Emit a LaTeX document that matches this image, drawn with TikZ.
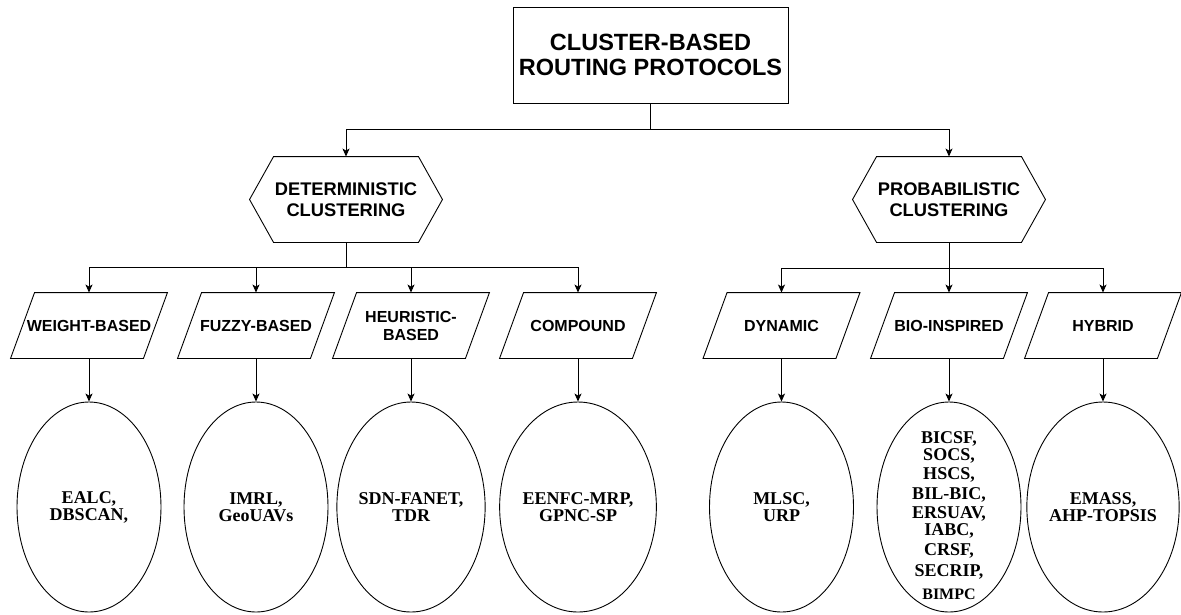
\documentclass[tikz,border=0pt]{standalone}
\usepackage{fontspec}
\setmainfont{Liberation Serif}
\newfontfamily\arialf{Liberation Sans}
\usetikzlibrary{shapes.geometric,arrows.meta}
\begin{document}
\begin{tikzpicture}[x=1pt,y=-1pt,
  line width=0.9pt,
  arr/.style={-{Stealth[length=8pt,width=7pt,inset=2pt]}},
  titlebox/.style={draw, minimum width=275pt, minimum height=96pt, inner sep=0pt, align=center, font=\arialf\bfseries\fontsize{23.5}{25}\selectfont},
  hexbox/.style={minimum width=192pt, minimum height=85pt, inner sep=0pt, align=center, font=\arialf\bfseries\fontsize{18.3}{21}\selectfont},
  parabox/.style={minimum width=132pt, minimum height=65pt, inner sep=0pt, align=center, font=\arialf\bfseries\fontsize{16}{18}\selectfont},
  ell/.style={draw, ellipse, minimum width=144pt, minimum height=210pt, inner sep=0pt, align=center, font=\bfseries\fontsize{18}{17}\selectfont},
  etext/.style={inner sep=0pt, align=center, font=\bfseries\fontsize{18}{17}\selectfont},
]
\useasboundingbox (0,0) rectangle (1181,614);

% title
\node[titlebox] (top) at (650.5,55) {CLUSTER-BASED\\ROUTING PROTOCOLS};

% hexagons
\node[hexbox] (det) at (346,199.5) {DETERMINISTIC\\CLUSTERING};
\node[hexbox] (prob) at (949,199.5) {PROBABILISTIC\\CLUSTERING};
\foreach \n in {det,prob}
  \draw (\n.west) -- ([xshift=24pt]\n.north west) -- ([xshift=-24pt]\n.north east)
        -- (\n.east) -- ([xshift=-24pt]\n.south east) -- ([xshift=24pt]\n.south west) -- cycle;

% parallelograms
\node[parabox] (w) at (89,325.5) {WEIGHT-BASED};
\node[parabox] (f) at (256,325.5) {FUZZY-BASED};
\node[parabox] (h) at (411,325.5) {HEURISTIC-\\BASED};
\node[parabox] (c) at (578,325.5) {COMPOUND};
\node[parabox] (d) at (781.5,325.5) {DYNAMIC};
\node[parabox] (b) at (949,325.5) {BIO-INSPIRED};
\node[parabox] (y) at (1103,325.5) {HYBRID};
\foreach \n in {w,f,h,c,d,b,y}
  \draw ([xshift=12pt]\n.north west) -- ([xshift=12pt]\n.north east)
        -- ([xshift=-12pt]\n.south east) -- ([xshift=-12pt]\n.south west) -- cycle;

% ellipses
\node[ell] (ew) at (89,507) {EALC,\\DBSCAN,};
\node[ell] (ef) at (256,507) {IMRL,\\GeoUAVs};
\node[ell] (eh) at (411,507) {SDN-FANET,\\TDR};
\node[ell] (ec) at (578,507) {EENFC-MRP,\\GPNC-SP};
\node[ell] (ed) at (781.5,507) {MLSC,\\URP};
\node[ell] (eb) at (949,507) {};
\node[etext, anchor=north] (tb) at (949,431) {BICSF,\\SOCS,\\[2pt]HSCS,\\[3pt]BIL-BIC,\\[2pt]ERSUAV,\\[0pt]IABC,\\[3pt]CRSF,\\[4pt]SECRIP,\\[6pt]{\fontsize{16}{17}\selectfont BIMPC}};
\node[ell] (ey) at (1103,507) {EMASS,\\AHP-TOPSIS};

% connectors
\coordinate (j0) at (650.5,129);
\coordinate (j1) at (346,267);
\coordinate (j2) at (949,268);
\draw (top.south) -- (j0);
\draw[arr] (j0) -| (det.north);
\draw[arr] (j0) -| (prob.north);
\draw (det.south) -- (j1);
\foreach \n in {w,f,h,c} \draw[arr] (j1) -| (\n.north);
\draw (prob.south) -- (j2);
\foreach \n in {d,b,y} \draw[arr] (j2) -| (\n.north);
\foreach \a/\e in {w/ew,f/ef,h/eh,c/ec,d/ed,b/eb,y/ey}
  \draw[arr] (\a.south) -- (\e.north);
\end{tikzpicture}
\end{document}
